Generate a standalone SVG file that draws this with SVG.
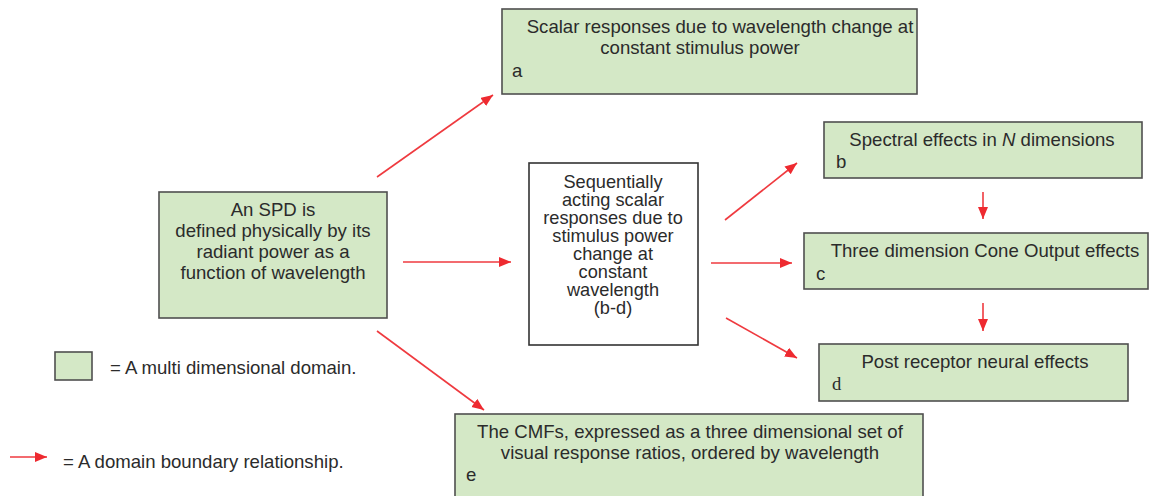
<svg xmlns="http://www.w3.org/2000/svg" width="1149" height="496" viewBox="0 0 1149 496">
<defs>
<style>
.box{fill:#d4e8c6;stroke:#4f4f4f;stroke-width:1.6}
.wbox{fill:#ffffff;stroke:#333;stroke-width:1.6}
.t{font-family:"Liberation Sans",Arial,sans-serif;font-size:18.6px;fill:#2b2b2b}
.s{font-size:18.2px}
.m{text-anchor:middle}
.c{stroke:#ef3a3f;stroke-width:1.6;fill:none;marker-end:url(#ah)}
</style>
<marker id="ah" markerUnits="userSpaceOnUse" markerWidth="14" markerHeight="12" refX="12" refY="5" orient="auto">
<path d="M0,0 L12,5 L0,10 Z" fill="#ee2a30"/>
</marker>
</defs>
<rect width="1149" height="496" fill="#ffffff"/>

<g id="node-a">
<rect class="box" x="502" y="9" width="415" height="85"/>
<text class="t m" x="720" y="33">Scalar responses due to wavelength change at</text>
<text class="t m" x="700" y="54">constant stimulus power</text>
<text class="t" x="512" y="77">a</text>
</g>

<g id="node-spd">
<rect class="box" x="159" y="192" width="228" height="126"/>
<text class="t m" x="273" y="216">An SPD is</text>
<text class="t m" x="273" y="237">defined physically by its</text>
<text class="t m" x="273" y="258">radiant power as a</text>
<text class="t m" x="273" y="279">function of wavelength</text>
</g>

<g id="node-mid">
<rect class="wbox" x="529" y="163" width="169" height="182"/>
<text class="t s m" x="613" y="188">Sequentially</text>
<text class="t s m" x="613" y="206">acting scalar</text>
<text class="t s m" x="613" y="224">responses due to</text>
<text class="t s m" x="613" y="242">stimulus power</text>
<text class="t s m" x="613" y="260">change at</text>
<text class="t s m" x="613" y="278">constant</text>
<text class="t s m" x="613" y="296">wavelength</text>
<text class="t s m" x="613" y="314">(b-d)</text>
</g>

<g id="node-b">
<rect class="box" x="824" y="122" width="318" height="56"/>
<text class="t m" x="982" y="146">Spectral effects in <tspan font-style="italic">N</tspan> dimensions</text>
<text class="t" x="836" y="168">b</text>
</g>

<g id="node-c">
<rect class="box" x="804" y="233" width="344" height="56"/>
<text class="t m" x="985" y="257">Three dimension Cone Output effects</text>
<text class="t" x="816" y="280">c</text>
</g>

<g id="node-d">
<rect class="box" x="819" y="344" width="309" height="57"/>
<text class="t m" x="975" y="368">Post receptor neural effects</text>
<text x="832" y="390" style="font-family:'Liberation Serif','Times New Roman',serif;font-size:18.6px;fill:#2b2b2b">d</text>
</g>

<g id="node-e">
<rect class="box" x="455" y="414" width="468" height="90"/>
<text class="t m" x="690" y="438">The CMFs, expressed as a three dimensional set of</text>
<text class="t m" x="690" y="459">visual response ratios, ordered by wavelength</text>
<text class="t" x="466" y="481">e</text>
</g>

<g id="legend">
<rect class="box" x="55" y="352" width="37" height="28"/>
<text class="t" x="110" y="374">= A multi dimensional domain.</text>
<line class="c" x1="10" y1="457" x2="47" y2="457"/>
<text class="t" x="63" y="468">= A domain boundary relationship.</text>
</g>

<g id="connectors">
<line class="c" x1="377" y1="177" x2="493" y2="95"/>
<line class="c" x1="403" y1="262" x2="511" y2="262"/>
<line class="c" x1="377" y1="331" x2="484" y2="410"/>
<line class="c" x1="725" y1="220" x2="797" y2="163"/>
<line class="c" x1="711" y1="263" x2="792" y2="263"/>
<line class="c" x1="726" y1="318" x2="797" y2="358"/>
<line class="c" x1="983" y1="192" x2="983" y2="219"/>
<line class="c" x1="983" y1="303" x2="983" y2="331"/>
</g>
</svg>
